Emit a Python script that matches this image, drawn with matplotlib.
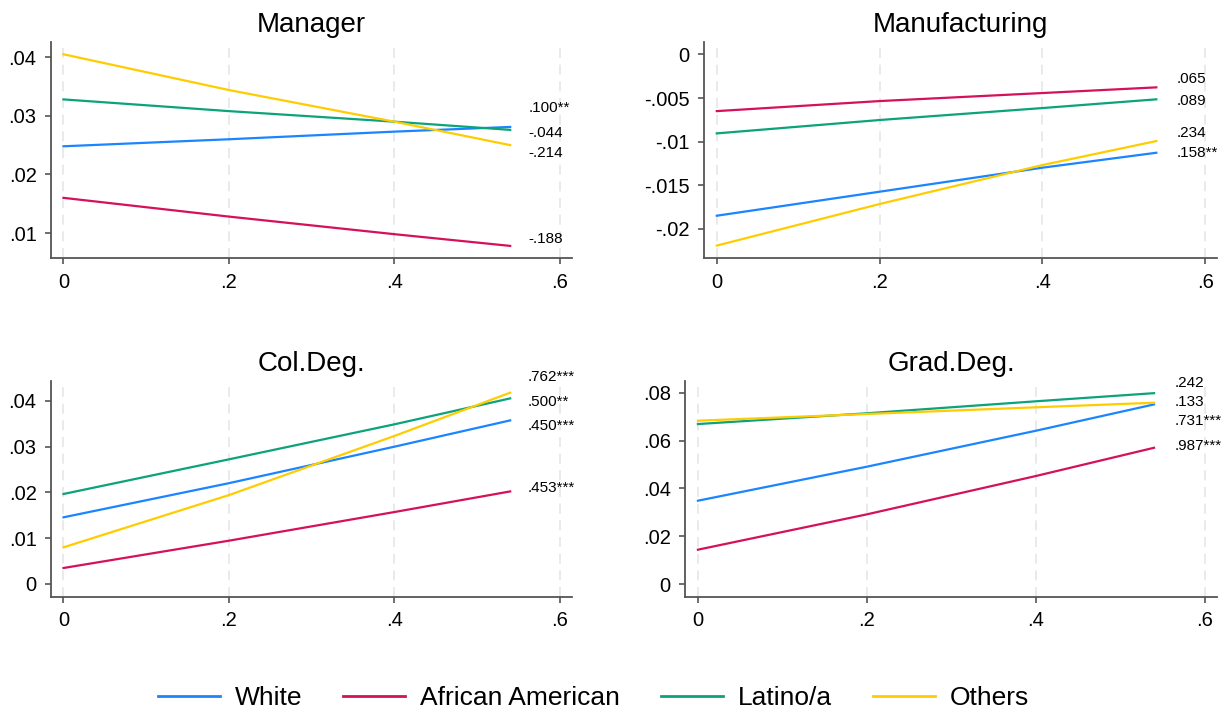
import matplotlib
matplotlib.use("Agg")
import matplotlib.pyplot as plt
from matplotlib.lines import Line2D

plt.rcParams['font.family'] = ['Liberation Sans', 'DejaVu Sans']

groups = ["White", "African American", "Latino/a", "Others"]
colors = ["#1a85ff", "#d41159", "#0ca37a", "#ffcc00"]
x_vals = [0.0, 0.2, 0.4, 0.54]

panels = ["Manager", "Manufacturing", "Col.Deg.", "Grad.Deg."]

manager = {
    "White": [0.0248, 0.0260, 0.0273, 0.0281],
    "African American": [0.0160, 0.0128, 0.0098, 0.0078],
    "Latino/a": [0.0328, 0.0308, 0.0290, 0.0276],
    "Others": [0.0405, 0.0344, 0.0290, 0.0250],
}
manufacturing = {
    "White": [-0.01848, -0.01573, -0.01298, -0.01127],
    "African American": [-0.0065, -0.00535, -0.00443, -0.00378],
    "Latino/a": [-0.00905, -0.00752, -0.00615, -0.00515],
    "Others": [-0.0219, -0.01714, -0.01268, -0.00993],
}
col_deg = {
    "White": [0.01455, 0.0220, 0.02996, 0.0357],
    "African American": [0.00349, 0.00945, 0.0157, 0.0202],
    "Latino/a": [0.01964, 0.0272, 0.03484, 0.0405],
    "Others": [0.0080, 0.0194, 0.0323, 0.04175],
}
grad_deg = {
    "White": [0.0349, 0.0491, 0.0641, 0.0751],
    "African American": [0.01445, 0.0292, 0.0452, 0.0570],
    "Latino/a": [0.0669, 0.0714, 0.0764, 0.0798],
    "Others": [0.0683, 0.0711, 0.0739, 0.0758],
}
series = [manager, manufacturing, col_deg, grad_deg]

# coefficient labels (text, y position)
labels_manager = [(".100**", 0.0313), ("-.044", 0.0270), ("-.214", 0.0236), ("-.188", 0.0090)]
labels_manuf = [(".065", -0.00283), (".089", -0.00535), (".234", -0.00898), (".158**", -0.01134)]
labels_col = [(".762***", 0.04524), (".500**", 0.0398), (".450***", 0.03455), (".453***", 0.02088)]
labels_grad = [(".242", 0.0839), (".133", 0.0762), (".731***", 0.0683), (".987***", 0.0577)]
labels = [labels_manager, labels_manuf, labels_col, labels_grad]
label_x = [0.562, 0.565, 0.561, 0.564]

xticks = [0, 0.2, 0.4, 0.6]
xticklabels = ["0", ".2", ".4", ".6"]
yticks = [
    [0.01, 0.02, 0.03, 0.04],
    [-0.02, -0.015, -0.01, -0.005, 0],
    [0, 0.01, 0.02, 0.03, 0.04],
    [0, 0.02, 0.04, 0.06, 0.08],
]
yticklabels = [
    [".01", ".02", ".03", ".04"],
    ["-.02", "-.015", "-.01", "-.005", "0"],
    ["0", ".01", ".02", ".03", ".04"],
    ["0", ".02", ".04", ".06", ".08"],
]
ylims = [(0.00574, 0.0426), (-0.02336, 0.00145), (-0.00277, 0.04436), (-0.00517, 0.085)]
xlims = [(-0.015, 0.6145), (-0.0157, 0.6145), (-0.015, 0.6145), (-0.0148, 0.6145)]

# axes rectangles [left, bottom, width, height] in figure fraction
rects = [
    [0.0415, 0.6387, 0.4230, 0.3025],
    [0.5719, 0.6382, 0.4167, 0.3034],
    [0.0415, 0.1643, 0.4230, 0.3025],
    [0.5568, 0.1643, 0.4318, 0.3025],
]

fig = plt.figure(figsize=(12.31, 7.14), dpi=100)
fig.patch.set_facecolor("white")

spine_col = "#555555"
for i in range(4):
    ax = fig.add_axes(rects[i])
    for xt in xticks:
        ax.axvline(xt, color="#e6e6e6", lw=1.2, ls=(0, (6, 4)), zorder=0)
    for g, c in zip(groups, colors):
        ax.plot(x_vals, series[i][g], color=c, lw=1.6, zorder=2)
    for txt, yv in labels[i]:
        ax.text(label_x[i], yv, txt, fontsize=11, va="center", ha="left", color="black")
    ax.set_xlim(*xlims[i])
    ax.set_ylim(*ylims[i])
    ax.set_xticks(xticks)
    ax.set_xticklabels(xticklabels, fontsize=14.5)
    ax.set_yticks(yticks[i])
    ax.set_yticklabels(yticklabels[i], fontsize=14.5)
    ax.spines["top"].set_visible(False)
    ax.spines["right"].set_visible(False)
    for s in ["left", "bottom"]:
        ax.spines[s].set_color(spine_col)
        ax.spines[s].set_linewidth(1.3)
    ax.tick_params(axis="both", direction="out", length=4, width=1.2, color=spine_col, pad=6.5)
    ax.set_title(panels[i], fontsize=20, pad=7)

handles = [Line2D([0], [0], color=c, lw=2) for c in colors]
fig.legend(handles, groups, loc="center", bbox_to_anchor=(0.482, 0.0224), ncol=4,
           frameon=False, fontsize=19, handlelength=2.35, columnspacing=1.55, handletextpad=0.57)

fig.savefig("out.png", dpi=100, facecolor="white")
